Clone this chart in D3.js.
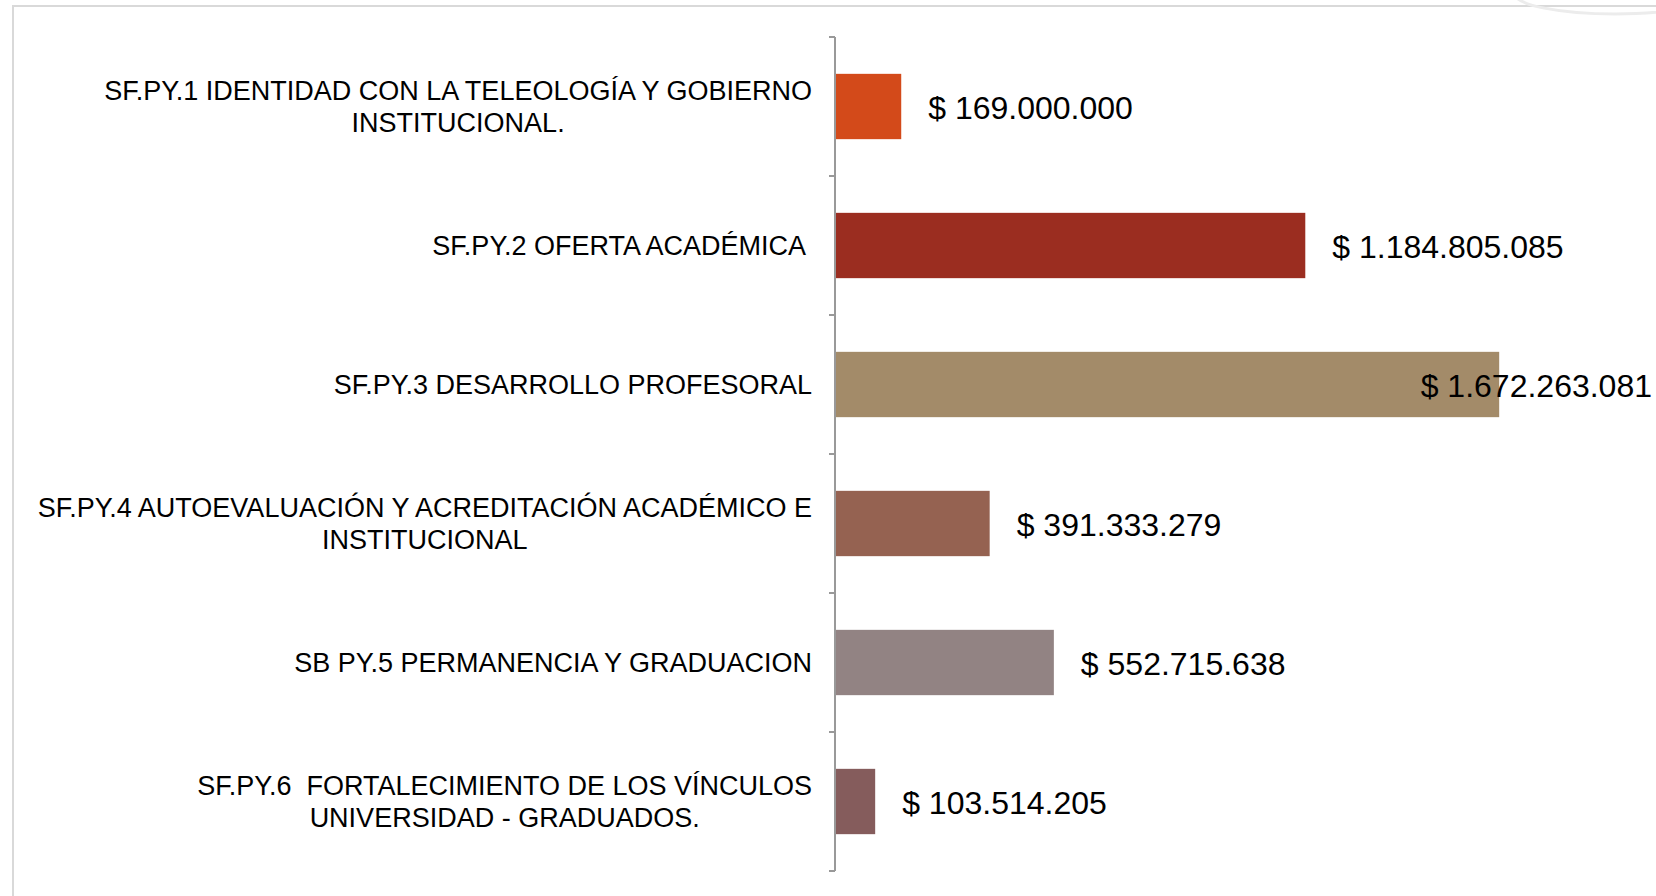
<!DOCTYPE html>
<html lang="es">
<head>
  <meta charset="UTF-8">
  <title>Proyectos SF.PY</title>
  <script src="https://d3js.org/d3.v7.min.js"></script>
  <style>
    body { margin: 0; padding: 0; background: #fff; }
    svg { display: block; font-family: "Liberation Sans", Arial, sans-serif; }
    .cat { font-size: 27px; fill: #000; white-space: pre; }
    .val { font-size: 32px; fill: #000; }
    .axis-line { stroke: #999; stroke-width: 2px; fill: none; }
    .frame { stroke: #d9d9d9; stroke-width: 2px; fill: none; }
  </style>
</head>
<body>
  <svg width="1656" height="896"></svg>
  <script>
    // === datos ===
    const categorias = ["SF.PY.1", "SF.PY.2", "SF.PY.3", "SF.PY.4", "SB PY.5", "SF.PY.6"];
    const etiquetas = [
      ["SF.PY.1 IDENTIDAD CON LA TELEOLOGÍA Y GOBIERNO", "INSTITUCIONAL."],
      ["SF.PY.2 OFERTA ACADÉMICA "],
      ["SF.PY.3 DESARROLLO PROFESORAL"],
      ["SF.PY.4 AUTOEVALUACIÓN Y ACREDITACIÓN ACADÉMICO E", "INSTITUCIONAL"],
      ["SB PY.5 PERMANENCIA Y GRADUACION"],
      ["SF.PY.6  FORTALECIMIENTO DE LOS VÍNCULOS", "UNIVERSIDAD - GRADUADOS."]
    ];
    const valores = [169000000, 1184805085, 1672263081, 391333279, 552715638, 103514205];
    const colores = ["#d34a1a", "#9b2d20", "#a38b69", "#956251", "#928383", "#855c5c"];

    const W = 1656, H = 896;
    const svg = d3.select("svg");

    // marco gris claro
    svg.append("path").attr("class", "frame")
      .attr("d", `M13,${H} L13,6 L${W},6`);
    // adorno tenue arriba a la derecha
    svg.append("ellipse")
      .attr("cx", 1615).attr("cy", -6).attr("rx", 100).attr("ry", 20)
      .attr("fill", "none").attr("stroke", "#ececec").attr("stroke-width", 3);

    const x = d3.scaleLinear().domain([0, 1800000000]).range([834, 1550]);
    const y = d3.scaleBand().domain(categorias).range([37, 871])
      .paddingInner(0.53).paddingOuter(0.265);

    const loc = d3.formatLocale({ decimal: ",", thousands: ".", grouping: [3], currency: ["$ ", ""] });
    const fmt = v => "$ " + loc.format(",d")(v);

    // eje vertical con marcas entre categorías
    svg.append("line").attr("class", "axis-line")
      .attr("x1", x(0) + 1).attr("x2", x(0) + 1)
      .attr("y1", y.range()[0]).attr("y2", y.range()[1]);
    const bordes = d3.range(categorias.length + 1).map(i => y.range()[0] + i * y.step());
    svg.selectAll(".tick").data(bordes).enter().append("line")
      .attr("class", "axis-line")
      .attr("x1", x(0) - 5).attr("x2", x(0) + 1)
      .attr("y1", d => d).attr("y2", d => d);

    // barras
    svg.selectAll(".bar").data(valores).enter().append("rect")
      .attr("x", x(0) + 2)
      .attr("y", (d, i) => y(categorias[i]))
      .attr("width", d => x(d) - x(0) - 2)
      .attr("height", y.bandwidth())
      .attr("fill", (d, i) => colores[i]);

    // etiquetas de valor
    svg.selectAll(".val").data(valores).enter().append("text")
      .attr("class", "val")
      .attr("x", d => x(d) + 27)
      .attr("y", (d, i) => y(categorias[i]) + y.bandwidth() / 2 + 1)
      .attr("dominant-baseline", "central")
      .text(d => fmt(d))
      .each(function () {
        const w = this.getComputedTextLength();
        if (+this.getAttribute("x") + w > W - 4) {
          this.setAttribute("x", W - 4);
          this.setAttribute("text-anchor", "end");
        }
      });

    // etiquetas de categoría (centradas entre sí, alineadas a la derecha)
    const derecha = x(0) - 22;
    const lineH = 32;
    etiquetas.forEach((lineas, i) => {
      const cy = y(categorias[i]) + y.bandwidth() / 2;
      const t = svg.append("text").attr("class", "cat")
        .attr("text-anchor", "middle");
      lineas.forEach((l, j) => {
        t.append("tspan")
          .attr("y", cy + (j - (lineas.length - 1) / 2) * lineH)
          .attr("dominant-baseline", "central")
          .text(l);
      });
      let maxW = 0;
      t.selectAll("tspan").each(function () {
        maxW = Math.max(maxW, this.getComputedTextLength());
      });
      t.selectAll("tspan").attr("x", derecha - maxW / 2);
    });
  </script>
</body>
</html>
